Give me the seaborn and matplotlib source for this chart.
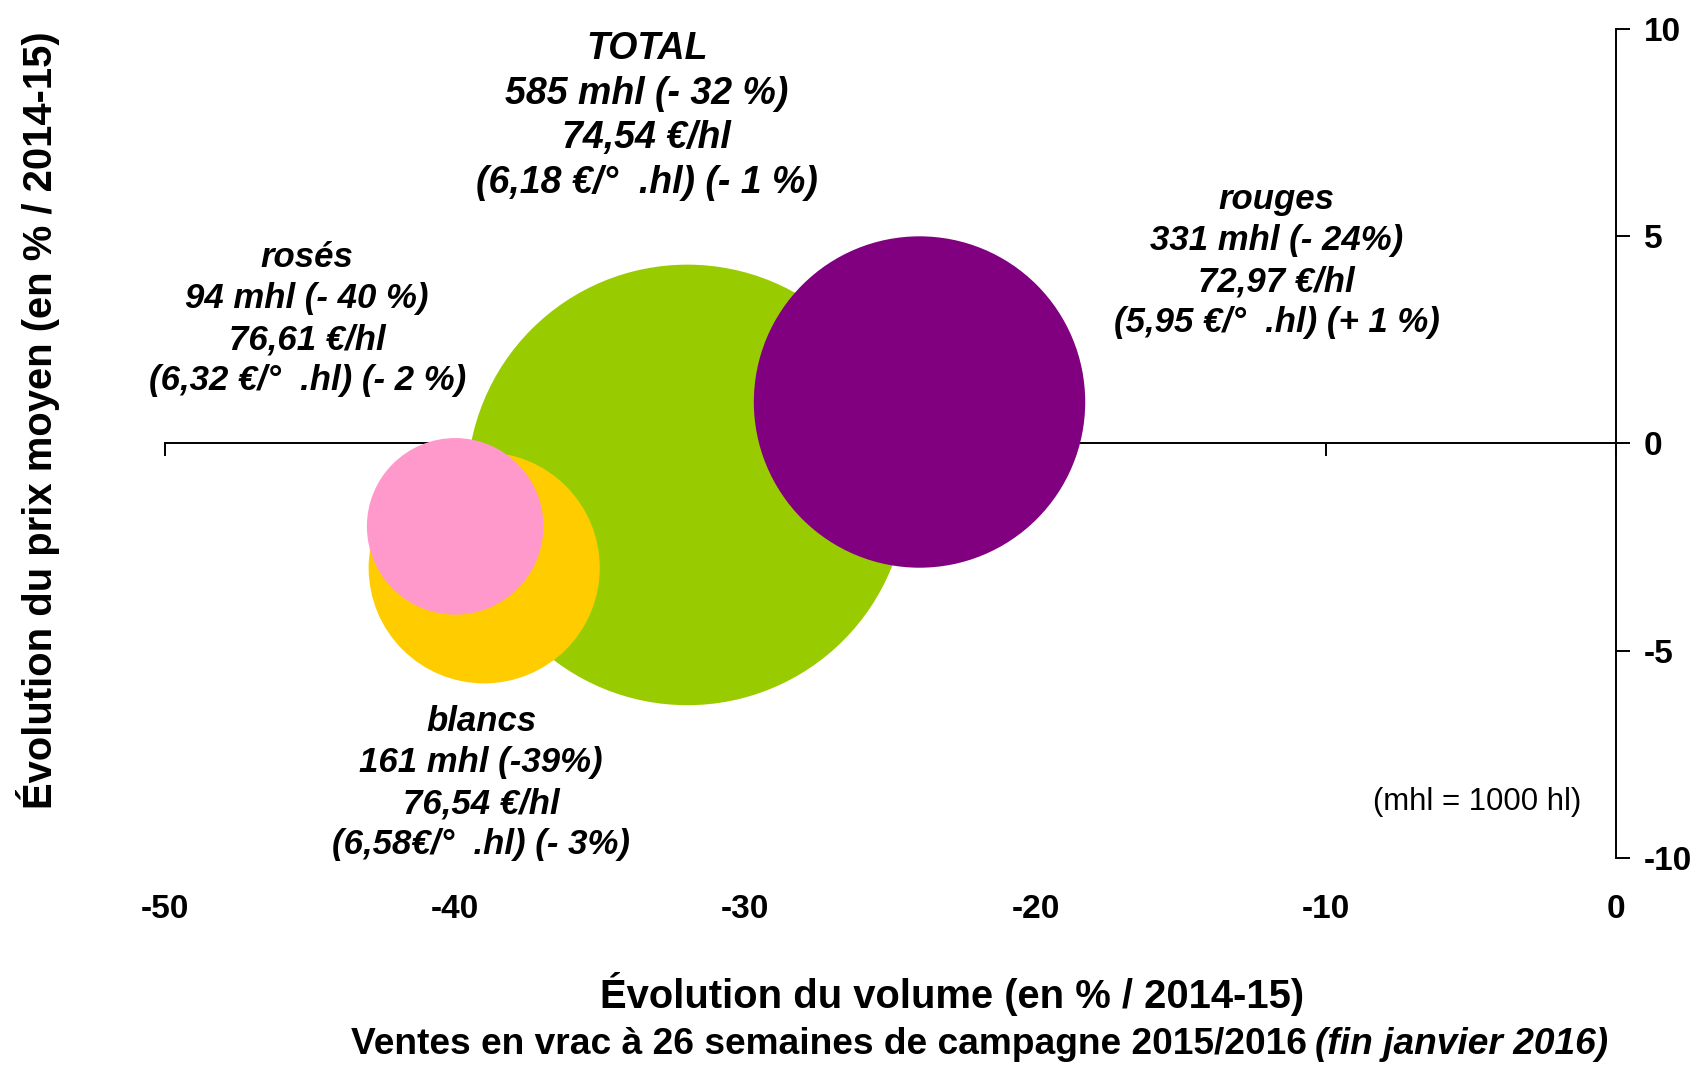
import matplotlib
matplotlib.use("Agg")
import matplotlib.pyplot as plt
import seaborn as sns
import pandas as pd

# données : évolution volume / prix, volumes en mhl
categories = ["TOTAL", "rouges", "blancs", "rosés"]
volume_change = [-32, -24, -39, -40]
price_change = [-1, 1, -3, -2]
volume_mhl = [585, 331, 161, 94]
colors = ["#99CC00", "#800080", "#FFCC00", "#FF99CC"]
bubble_text = [
    "TOTAL\n585 mhl (- 32 %)\n74,54 €/hl\n(6,18 €/°  .hl) (- 1 %)",
    "rouges\n331 mhl (- 24%)\n72,97 €/hl\n(5,95 €/°  .hl) (+ 1 %)",
    "blancs\n161 mhl (-39%)\n76,54 €/hl\n(6,58€/°  .hl) (- 3%)",
    "rosés\n94 mhl (- 40 %)\n76,61 €/hl\n(6,32 €/°  .hl) (- 2 %)",
]
x_ticks = [-50, -40, -30, -20, -10, 0]
y_ticks = [-10, -5, 0, 5, 10]

sns.set_theme(style="white")
plt.rcParams["font.family"] = ["Liberation Sans", "DejaVu Sans"]
plt.rcParams["axes.unicode_minus"] = False
plt.rcParams["text.color"] = "black"
plt.rcParams["xtick.color"] = "black"
plt.rcParams["ytick.color"] = "black"
plt.rcParams["xtick.labelcolor"] = "black"
plt.rcParams["ytick.labelcolor"] = "black"

df = pd.DataFrame({"cat": categories, "vol": volume_change,
                   "prix": price_change, "mhl": volume_mhl})

fig = plt.figure(figsize=(16.97, 10.65), dpi=100)
ax = fig.add_axes([0.0972, 0.1944, 0.8551, 0.7784])

k = 172  # points² par mhl
sns.scatterplot(data=df, x="vol", y="prix", hue="cat",
                palette=dict(zip(categories, colors)),
                size="mhl", sizes=(k * min(volume_mhl), k * max(volume_mhl)),
                size_norm=(min(volume_mhl), max(volume_mhl)),
                linewidth=0, alpha=1, legend=False, ax=ax, zorder=3, clip_on=False)

ax.set_xlim(-50, 0)
ax.set_ylim(-10, 10)
ax.set_xlabel("")
ax.set_ylabel("")

for s in ["top", "left"]:
    ax.spines[s].set_visible(False)
ax.spines["bottom"].set_position(("data", 0))
for s in ["bottom", "right"]:
    ax.spines[s].set_visible(True)
    ax.spines[s].set_color("black")
    ax.spines[s].set_linewidth(1.4)

ax.set_xticks(x_ticks)
ax.tick_params(axis="x", bottom=True, direction="out", length=9, width=1.4,
               color="black", labelbottom=False)
ax.yaxis.tick_right()
ax.set_yticks(y_ticks)
ax.tick_params(axis="y", right=True, left=False, direction="out", length=10,
               width=1.4, color="black", labelsize=24, pad=10, labelcolor="black")
for t in ax.get_yticklabels():
    t.set_fontweight("bold")

# étiquettes x en bas
sec = ax.secondary_xaxis("bottom")
sec.set_xticks(x_ticks)
sec.spines["bottom"].set_visible(False)
sec.tick_params(length=0, pad=26, labelsize=24, labelcolor="black")
for t in sec.get_xticklabels():
    t.set_fontweight("bold")

# textes des bulles
label_pos = [(-33.4, 7.9, 27), (-11.7, 4.4, 25), (-39.1, -8.2, 25), (-45.1, 3.0, 25)]
for txt, (lx, ly, fs) in zip(bubble_text, label_pos):
    ax.text(lx, ly, txt, ha="center", va="center", fontsize=fs, color="black",
            fontweight="bold", style="italic", linespacing=1.31, zorder=4)

ax.text(-4.8, -8.65, "(mhl = 1000 hl)", ha="center", va="center", fontsize=22.4,
        color="black")

fig.text(0.0224, 0.6056, "Évolution du prix moyen (en % / 2014-15)", rotation=90,
         ha="center", va="center", fontsize=28.8, fontweight="bold", color="black")
fig.text(0.561, 0.0667, "Évolution du volume (en % / 2014-15)",
         ha="center", va="center", fontsize=28.8, fontweight="bold", color="black")
fig.text(0.770, 0.0197, "Ventes en vrac à 26 semaines de campagne 2015/2016",
         ha="right", va="center", fontsize=26.7, fontweight="bold", color="black")
fig.text(0.775, 0.0197, "(fin janvier 2016)", color="black",
         ha="left", va="center", fontsize=26.7, fontweight="bold", style="italic")

fig.savefig("out.png", dpi=100)
